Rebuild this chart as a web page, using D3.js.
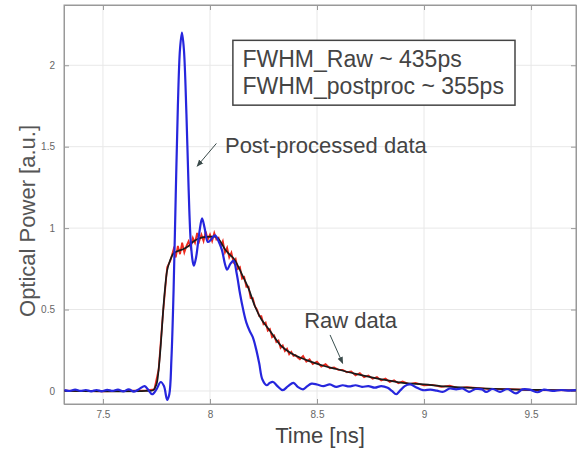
<!DOCTYPE html>
<html>
<head>
<meta charset="utf-8">
<script src="https://cdn.jsdelivr.net/npm/d3@7"></script>
<style>
  body { margin: 0; background: #fff; }
  text { font-family: "Liberation Sans", Arial, sans-serif; }
</style>
</head>
<body>
<div class="container"></div>
<script>
// Post-processed (blue) trace
const postT = [7.32, 7.345, 7.37, 7.395, 7.42, 7.445, 7.47, 7.495, 7.52, 7.545, 7.57, 7.595, 7.62, 7.645, 7.67, 7.695, 7.71, 7.73, 7.75, 7.77, 7.785, 7.8, 7.81, 7.82, 7.83, 7.84, 7.85, 7.86, 7.869, 7.878, 7.89, 7.9, 7.91, 7.92, 7.925, 7.935, 7.95, 7.963, 7.975, 7.99, 8.005, 8.023, 8.04, 8.056, 8.07, 8.08, 8.095, 8.11, 8.125, 8.14, 8.155, 8.17, 8.185, 8.2, 8.215, 8.23, 8.245, 8.265, 8.28, 8.295, 8.315, 8.34, 8.365, 8.39, 8.41, 8.435, 8.455, 8.475, 8.5, 8.53, 8.56, 8.59, 8.62, 8.65, 8.68, 8.71, 8.74, 8.77, 8.8, 8.83, 8.85, 8.87, 8.89, 8.91, 8.935, 8.96, 8.995, 9.03, 9.06, 9.09, 9.12, 9.15, 9.18, 9.21, 9.24, 9.27, 9.29, 9.32, 9.355, 9.39, 9.43, 9.46, 9.495, 9.53, 9.56, 9.6, 9.64, 9.68, 9.71];
const postV = [0.005, 0.0, 0.008, 0.0, 0.006, -0.002, 0.006, -0.002, 0.007, 0.0, 0.008, -0.003, 0.01, -0.004, 0.012, 0.03, 0.01, -0.02, 0.01, 0.055, 0.03, -0.055, -0.02, 0.2, 0.62, 1.2, 1.75, 2.1, 2.2, 2.1, 1.7, 1.25, 0.92, 0.79, 0.77, 0.82, 0.97, 1.06, 1.0, 0.915, 0.93, 0.955, 0.92, 0.865, 0.78, 0.745, 0.78, 0.8, 0.72, 0.6, 0.5, 0.42, 0.37, 0.33, 0.26, 0.17, 0.07, 0.035, 0.05, 0.055, 0.03, 0.005, 0.03, 0.05, 0.025, 0.01, 0.03, 0.045, 0.04, 0.03, 0.04, 0.025, 0.035, 0.028, 0.035, 0.025, 0.03, 0.02, 0.03, 0.02, 0.0, -0.02, 0.005, 0.03, 0.04, 0.025, 0.005, 0.008, 0.002, -0.005, 0.015, 0.01, 0.015, -0.005, 0.012, 0.01, -0.006, 0.012, -0.005, 0.012, -0.015, 0.01, 0.008, -0.008, 0.008, 0.0, 0.006, 0.002, 0.005];

// Raw (red) trace
const rawT = [7.32, 7.5, 7.7, 7.74, 7.76, 7.78, 7.8, 7.815, 7.83, 7.84, 7.85, 7.86, 7.87, 7.88, 7.89, 7.9, 7.91, 7.92, 7.93, 7.94, 7.95, 7.96, 7.97, 7.98, 7.99, 8.0, 8.01, 8.02, 8.03, 8.04, 8.05, 8.06, 8.07, 8.08, 8.09, 8.1, 8.11, 8.12, 8.13, 8.14, 8.15, 8.16, 8.17, 8.18, 8.19, 8.2, 8.21, 8.22, 8.23, 8.24, 8.25, 8.26, 8.27, 8.28, 8.29, 8.3, 8.31, 8.32, 8.33, 8.34, 8.35, 8.36, 8.37, 8.38, 8.39, 8.4, 8.41, 8.42, 8.435, 8.45, 8.465, 8.48, 8.5, 8.52, 8.54, 8.56, 8.58, 8.6, 8.62, 8.64, 8.66, 8.68, 8.7, 8.72, 8.74, 8.76, 8.78, 8.8, 8.82, 8.84, 8.86, 8.88, 8.9, 8.93, 8.96, 9.0, 9.04, 9.08, 9.12, 9.16, 9.2, 9.3, 9.4, 9.5, 9.71];
const rawV = [0.002, -0.002, 0.003, 0.01, 0.13, 0.47, 0.76, 0.8, 0.87, 0.82, 0.89, 0.84, 0.91, 0.85, 0.89, 0.92, 0.88, 0.94, 0.91, 0.97, 0.92, 0.96, 0.92, 0.98, 0.93, 0.96, 0.92, 0.97, 0.93, 0.94, 0.89, 0.92, 0.85, 0.88, 0.82, 0.85, 0.79, 0.81, 0.75, 0.76, 0.69, 0.7, 0.64, 0.64, 0.57, 0.57, 0.52, 0.5, 0.46, 0.46, 0.41, 0.42, 0.37, 0.38, 0.33, 0.34, 0.3, 0.31, 0.265, 0.28, 0.245, 0.26, 0.225, 0.24, 0.215, 0.22, 0.205, 0.195, 0.215, 0.18, 0.195, 0.165, 0.18, 0.15, 0.165, 0.14, 0.145, 0.13, 0.13, 0.115, 0.12, 0.095, 0.11, 0.085, 0.095, 0.075, 0.085, 0.065, 0.076, 0.055, 0.066, 0.048, 0.058, 0.042, 0.05, 0.035, 0.038, 0.025, 0.032, 0.018, 0.023, 0.013, 0.011, 0.006, 0.004];

// Smoothed raw (black) trace
const fitT = [7.32, 7.7, 7.735, 7.75, 7.76, 7.77, 7.78, 7.79, 7.8, 7.813, 7.83, 7.85, 7.874, 7.9, 7.92, 7.945, 7.97, 8.0, 8.03, 8.05, 8.07, 8.09, 8.11, 8.13, 8.155, 8.18, 8.21, 8.24, 8.28, 8.33, 8.375, 8.42, 8.47, 8.53, 8.59, 8.67, 8.75, 8.83, 8.9, 9.0, 9.1, 9.2, 9.3, 9.4, 9.5, 9.6, 9.71];
const fitV = [0, 0, 0.005, 0.04, 0.13, 0.28, 0.47, 0.63, 0.74, 0.8, 0.845, 0.86, 0.87, 0.89, 0.915, 0.935, 0.945, 0.948, 0.945, 0.915, 0.87, 0.84, 0.815, 0.77, 0.7, 0.63, 0.52, 0.44, 0.37, 0.28, 0.235, 0.205, 0.18, 0.155, 0.135, 0.108, 0.085, 0.065, 0.05, 0.04, 0.028, 0.02, 0.015, 0.01, 0.007, 0.005, 0.004];

const xTicks = [7.5, 8, 8.5, 9, 9.5];
const yTicks = [0, 0.5, 1, 1.5, 2];
const xTickLabels = ['7.5', '8', '8.5', '9', '9.5'];
const yTickLabels = ['0', '0.5', '1', '1.5', '2'];
const boxLines = ['FWHM_Raw ~ 435ps', 'FWHM_postproc ~ 355ps'];

const width = 582, height = 460;
const mLeft = 64, mRight = 576, mTop = 5, mBottom = 404;

const svg = d3.select('.container').append('svg')
    .attr('width', width)
    .attr('height', height);

const x = d3.scaleLinear().domain([7.318, 9.71]).range([mLeft, mRight]);
const y = d3.scaleLinear().domain([-0.08, 2.37]).range([mBottom, mTop]);

// grid
svg.append('g').selectAll('line').data(xTicks).enter().append('line')
    .attr('x1', d => x(d)).attr('x2', d => x(d))
    .attr('y1', mTop).attr('y2', mBottom)
    .attr('stroke', '#e8e8e8').attr('stroke-width', 1);
svg.append('g').selectAll('line').data(yTicks).enter().append('line')
    .attr('x1', mLeft).attr('x2', mRight)
    .attr('y1', d => y(d)).attr('y2', d => y(d))
    .attr('stroke', '#e8e8e8').attr('stroke-width', 1);

// axes, MATLAB style ticks pointing inward
const xAxis = d3.axisBottom(x).tickValues(xTicks).tickSize(-5).tickPadding(7)
    .tickFormat((d, i) => xTickLabels[i]);
const yAxis = d3.axisLeft(y).tickValues(yTicks).tickSize(-5).tickPadding(9)
    .tickFormat((d, i) => yTickLabels[i]);

svg.append('g').attr('transform', `translate(0,${mBottom})`).call(xAxis);
svg.append('g').attr('transform', `translate(${mLeft},0)`).call(yAxis);
svg.append('g').attr('transform', `translate(0,${mTop})`)
    .call(d3.axisTop(x).tickValues(xTicks).tickSize(-5).tickFormat(''));
svg.append('g').attr('transform', `translate(${mRight},0)`)
    .call(d3.axisRight(y).tickValues(yTicks).tickSize(-5).tickFormat(''));

svg.selectAll('.domain').attr('stroke', '#999');
svg.selectAll('.tick line').attr('stroke', '#999');
svg.selectAll('.tick text')
    .style('font-family', '"Liberation Sans", Arial, sans-serif')
    .style('font-size', '10px')
    .attr('fill', '#666');

// box outline
svg.append('rect')
    .attr('x', mLeft).attr('y', mTop)
    .attr('width', mRight - mLeft).attr('height', mBottom - mTop)
    .attr('fill', 'none').attr('stroke', '#999').attr('stroke-width', 1);

// clip
svg.append('clipPath').attr('id', 'clip').append('rect')
    .attr('x', mLeft).attr('y', mTop).attr('width', mRight - mLeft).attr('height', mBottom - mTop);

const plot = svg.append('g').attr('clip-path', 'url(#clip)');

const zip = (ts, vs) => ts.map((t, i) => [t, vs[i]]);
const line = d3.line().x(d => x(d[0])).y(d => y(d[1]));
const smooth = d3.line().x(d => x(d[0])).y(d => y(d[1])).curve(d3.curveCatmullRom.alpha(0.5));

plot.append('path').datum(zip(rawT, rawV))
    .attr('d', line).attr('fill', 'none')
    .attr('stroke', '#ee2a1e').attr('stroke-width', 1.8);

plot.append('path').datum(zip(fitT, fitV))
    .attr('d', smooth).attr('fill', 'none')
    .attr('stroke', '#1a1a1a').attr('stroke-width', 1.7);

plot.append('path').datum(zip(postT, postV))
    .attr('d', smooth).attr('fill', 'none')
    .attr('stroke', '#2626dd').attr('stroke-width', 2.2);

// axis labels
svg.append('text')
    .attr('x', (mLeft + mRight) / 2).attr('y', 443)
    .attr('text-anchor', 'middle')
    .style('font-size', '22px').attr('fill', '#444')
    .text('Time [ns]');

svg.append('text')
    .attr('transform', `translate(35,221) rotate(-90)`)
    .attr('text-anchor', 'middle')
    .style('font-size', '22px').attr('fill', '#555')
    .text('Optical Power [a.u.]');

// FWHM box
svg.append('rect')
    .attr('x', x(8.107)).attr('y', y(2.153))
    .attr('width', x(9.425) - x(8.107)).attr('height', y(1.755) - y(2.153))
    .attr('fill', '#fff').attr('stroke', '#444').attr('stroke-width', 1.5);

svg.append('g').selectAll('text').data(boxLines).enter().append('text')
    .attr('x', x(8.152))
    .attr('y', (d, i) => 67 + i * 27)
    .style('font-size', '23px').attr('fill', '#444')
    .text(d => d);

// annotations
svg.append('defs').append('marker')
    .attr('id', 'arrow').attr('viewBox', '0 0 10 10')
    .attr('refX', 9).attr('refY', 5)
    .attr('markerWidth', 7).attr('markerHeight', 7)
    .attr('orient', 'auto')
    .append('path').attr('d', 'M0,1 L10,5 L0,9 Z').attr('fill', '#3a4a4a');

svg.append('line')
    .attr('x1', x(8.03)).attr('y1', y(1.52))
    .attr('x2', x(7.94)).attr('y2', y(1.38))
    .attr('stroke', '#3a4a4a').attr('stroke-width', 1)
    .attr('marker-end', 'url(#arrow)');

svg.append('text')
    .attr('x', x(8.07)).attr('y', 153)
    .style('font-size', '22px').attr('fill', '#444')
    .text('Post-processed data');

svg.append('line')
    .attr('x1', x(8.561)).attr('y1', y(0.344))
    .attr('x2', x(8.62)).attr('y2', y(0.17))
    .attr('stroke', '#3a5050').attr('stroke-width', 1)
    .attr('marker-end', 'url(#arrow)');

svg.append('text')
    .attr('x', x(8.44)).attr('y', 328)
    .style('font-size', '22px').attr('fill', '#444')
    .text('Raw data');
</script>
</body>
</html>
